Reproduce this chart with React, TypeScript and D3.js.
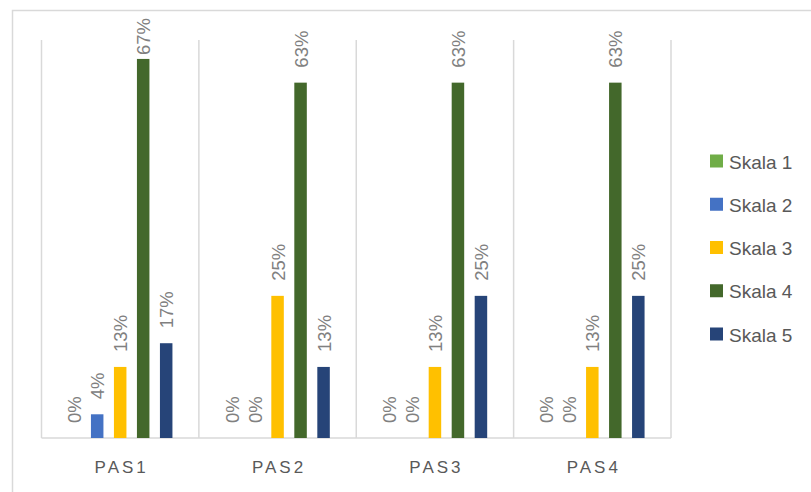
import React from "react";
import * as d3 from "d3";

const categories = ["PAS1", "PAS2", "PAS3", "PAS4"];
const seriesNames = ["Skala 1", "Skala 2", "Skala 3", "Skala 4", "Skala 5"];
const skala1 = [0, 0, 0, 0];
const skala2 = [0.0417, 0, 0, 0];
const skala3 = [0.125, 0.25, 0.125, 0.125];
const skala4 = [0.6667, 0.625, 0.625, 0.625];
const skala5 = [0.1667, 0.125, 0.25, 0.25];
const seriesValues = [skala1, skala2, skala3, skala4, skala5];
const colors = ["#70ad47", "#4472c4", "#ffc000", "#43682b", "#264478"];

const W = 811;
const H = 492;
const plotLeft = 41.5;
const plotRight = 671;
const plotTop = 40;
const plotBottom = 438;
const labelSize = 18.5;
const labelMinTop = 18;

export default function App() {
  const x = d3.scaleBand().domain(categories).range([plotLeft, plotRight]).paddingInner(0).paddingOuter(0);
  const y = d3.scaleLinear().domain([0, 0.7]).range([plotBottom, plotTop]);
  const step = 23;
  const barW = 12.5;
  const fmt = d3.format(".0%");
  const boundaries = [...categories.map((c) => x(c) as number), plotRight];
  const legendY = d3.scalePoint().domain(seriesNames).range([161, 334]);

  return (
    <svg width={W} height={H} style={{ position: "absolute", left: 0, top: 0 }} fontFamily="'Liberation Sans', Arial, sans-serif">
      <rect x={0} y={0} width={W} height={H} fill="#fff" />
      <path d={`M12.5,${H} V10.5 H${W}`} fill="none" stroke="#d9d9d9" strokeWidth={1.5} />
      {boundaries.map((bx, i) => (
        <line key={i} x1={bx} x2={bx} y1={plotTop} y2={plotBottom} stroke="#d9d9d9" strokeWidth={1.5} />
      ))}
      <line x1={plotLeft} x2={plotRight} y1={plotBottom} y2={plotBottom} stroke="#d9d9d9" strokeWidth={1.5} />
      {categories.map((c, ci) => {
        const center = (x(c) as number) + x.bandwidth() / 2;
        return (
          <g key={c}>
            {seriesValues.map((vals, si) => {
              const cx = center + (si - 2) * step;
              const v = vals[ci];
              const top = y(v);
              const txt = fmt(v);
              const len = labelSize * (0.556 * (txt.length - 1) + 0.889);
              const start = Math.max(top - 15, labelMinTop + len);
              return (
                <g key={si}>
                  {v > 0 && (
                    <rect x={cx - barW / 2} y={top} width={barW} height={plotBottom - top} fill={colors[si]} />
                  )}
                  <text
                    transform={`translate(${cx + 0.5},${start}) rotate(-90)`}
                    textAnchor="start"
                    dominantBaseline="central"
                    fontSize={labelSize}
                    fill="#808080"
                  >
                    {txt}
                  </text>
                </g>
              );
            })}
            <text x={center + 1.5} y={473} textAnchor="middle" fontSize={17} letterSpacing={3} fill="#595959">
              {c}
            </text>
          </g>
        );
      })}
      {seriesNames.map((s, i) => {
        const ly = legendY(s) as number;
        return (
          <g key={s}>
            <rect x={710} y={ly - 6.5} width={13} height={13} fill={colors[i]} />
            <text x={729} y={ly + 1} dominantBaseline="central" fontSize={19} fill="#595959">
              {s}
            </text>
          </g>
        );
      })}
    </svg>
  );
}
